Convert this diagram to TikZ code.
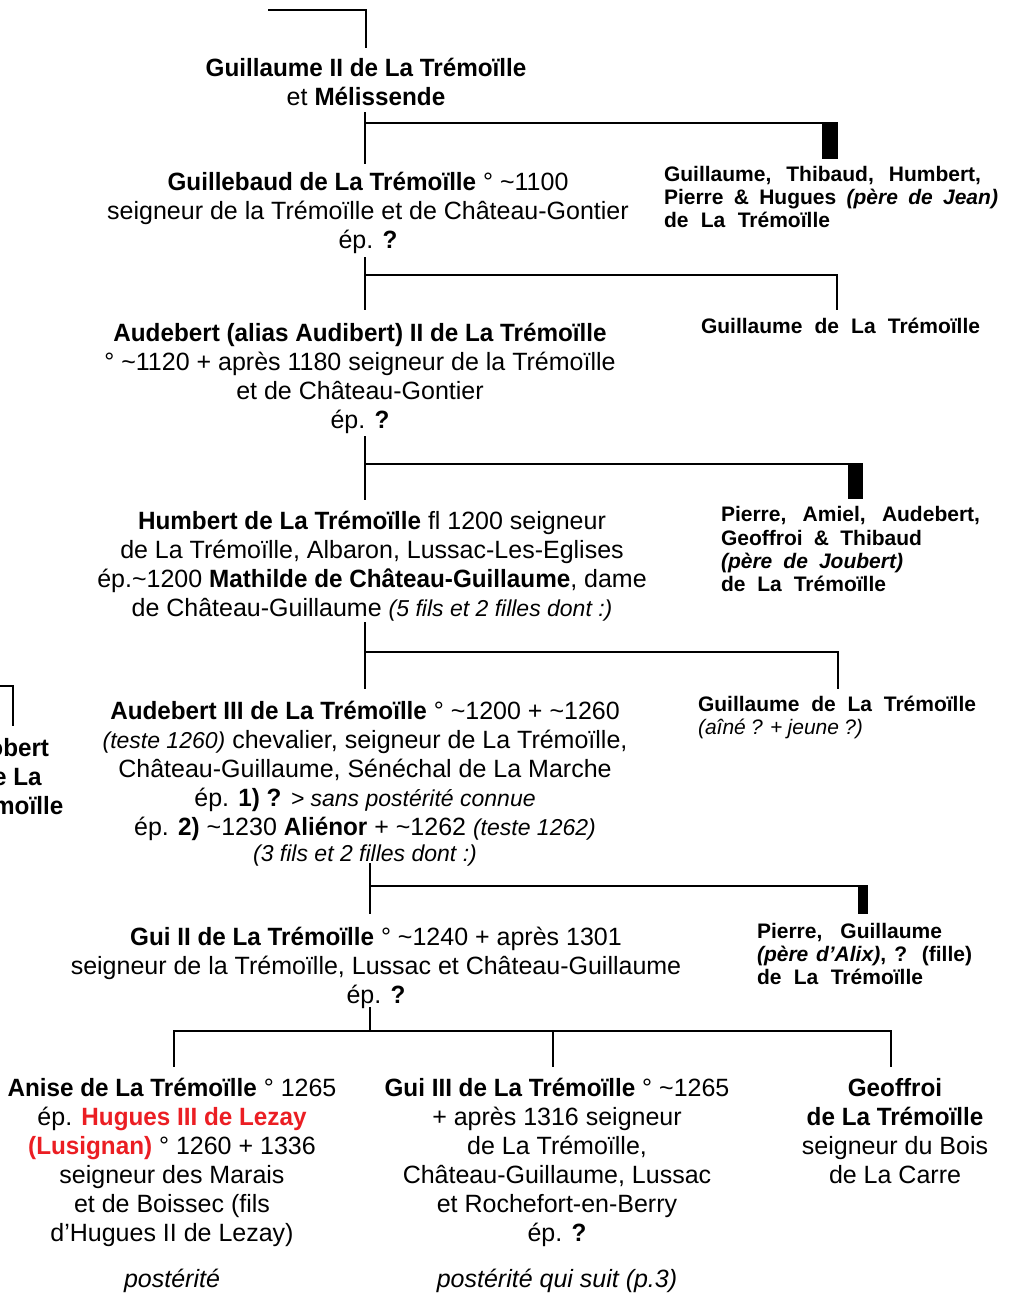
\documentclass[tikz,border=0pt]{standalone}
\usepackage{fontspec}
\setmainfont{Liberation Sans}[BoldFeatures={FakeStretch=0.97},BoldItalicFeatures={FakeStretch=0.97}]
\newfontfamily\sidefont{Liberation Sans}
\usepackage{xcolor}
\definecolor{lezred}{RGB}{235,30,35}
\newcommand\mainsz{\fontsize{12.5}{14.5}\selectfont}
\newcommand\sidesz{\fontsize{10.5}{11.5}\selectfont}
\newcommand\notesz{\fontsize{11.5}{13}\selectfont\itshape}
\newcommand\widesp{\spaceskip=0.25em plus 1fil minus 0.1em\relax}
\newcommand\ctabx[1]{\begin{tabular}[t]{@{}c@{}}#1\end{tabular}}
\newcommand\ltabx[1]{\begin{tabular}[t]{@{}l@{}}#1\end{tabular}}
\newcommand\sline[2]{\makebox[#1pt][s]{#2}}
\newcommand\tl{\textasciitilde}
\begin{document}
\begin{tikzpicture}[x=0.5pt,y=-0.5pt,line width=1pt,
  person/.style={anchor=base,inner sep=0pt,font=\mainsz},
  side/.style={anchor=base west,inner sep=0pt,font=\sidefont\sidesz\bfseries\widesp},
  link/.style={line width=1pt,line cap=rect},
  bar/.style={fill=black}]
\useasboundingbox (0,0) rectangle (1011,1293);
\clip (0,0) rectangle (1011,1293);

% ---------- nodes ----------
\node[person] (n1) at (366,77) {\ctabx{\textbf{Guillaume II de La Trémoïlle}\\ et \textbf{Mélissende}}};
\node[person] (n2) at (368,191) {\ctabx{\textbf{Guillebaud de La Trémoïlle} ° \tl1100\\ seigneur de la Trémoïlle et de Château-Gontier\\ ép. \textbf{?}}};
\node[person] (n3) at (360,342) {\ctabx{\textbf{Audebert (alias Audibert) II de La Trémoïlle}\\ ° \tl1120 + après 1180 seigneur de la Trémoïlle\\ et de Château-Gontier\\ ép. \textbf{?}}};
\node[person] (n4) at (372,529) {\ctabx{\textbf{Humbert de La Trémoïlle} fl 1200 seigneur\\ de La Trémoïlle, Albaron, Lussac-Les-Eglises\\ ép.\tl1200 \textbf{Mathilde de Château-Guillaume}, dame\\ de Château-Guillaume {\notesz (5 fils et 2 filles dont :)}}};
\node[person] (n5) at (365,719) {\ctabx{\textbf{Audebert III de La Trémoïlle} ° \tl1200 + \tl1260\\ {\notesz (teste 1260)} chevalier, seigneur de La Trémoïlle,\\ Château-Guillaume, Sénéchal de La Marche\\ ép. \textbf{1) ?} {\notesz > sans postérité connue}\\ ép. \textbf{2)} \tl1230 \textbf{Aliénor} + \tl1262 {\notesz (teste 1262)}\\[-1.5pt] {\notesz (3 fils et 2 filles dont :)}}};
\node[person] (n6) at (376,945) {\ctabx{\textbf{Gui II de La Trémoïlle} ° \tl1240 + après 1301\\ seigneur de la Trémoïlle, Lussac et Château-Guillaume\\ ép. \textbf{?}}};
\node[person] (n7) at (172,1096) {\ctabx{\textbf{Anise de La Trémoïlle} ° 1265\\ ép. \textcolor{lezred}{\textbf{Hugues III de Lezay}}\\ \textcolor{lezred}{\textbf{(Lusignan)}} ° 1260 + 1336\\ seigneur des Marais\\ et de Boissec (fils\\ d’Hugues II de Lezay)}};
\node[person] (n8) at (557,1096) {\ctabx{\textbf{Gui III de La Trémoïlle} ° \tl1265\\ + après 1316 seigneur\\ de La Trémoïlle,\\ Château-Guillaume, Lussac\\ et Rochefort-en-Berry\\ ép. \textbf{?}}};
\node[person] (n9) at (895,1096) {\ctabx{\textbf{Geoffroi}\\ \textbf{de La Trémoïlle}\\ seigneur du Bois\\ de La Carre}};
\node[person] (p7) at (172,1287) {\itshape postérité};
\node[person] (p8) at (557,1287) {\itshape postérité qui suit (p.3)};
\node[person,font=\mainsz\bfseries] (lc) at (10,756) {\ctabx{Robert\\ de La\\ Trémoïlle}};

\node[side] (r1) at (663,182) {\ltabx{\sline{158.5}{Guillaume, Thibaud, Humbert,}\\ \sline{167}{Pierre \& Hugues \textit{(père de Jean)}}\\ \sline{83}{de La Trémoïlle}}};
\node[side] (r2) at (700,334) {\sline{139.5}{Guillaume de La Trémoïlle}};
\node[side] (r3) at (720,522) {\ltabx{\sline{129.5}{Pierre, Amiel, Audebert,}\\ \sline{100.5}{Geoffroi \& Thibaud}\\ \sline{91}{\textit{(père de Joubert)}}\\ \sline{82.5}{de La Trémoïlle}}};
\node[side] (r4) at (697,711) {\ltabx{\sline{139}{Guillaume de La Trémoïlle}\\ \sline{82.5}{\mdseries\itshape (aîné ? + jeune ?)}}};
\node[side] (r5) at (756,938) {\ltabx{\sline{92.5}{Pierre, Guillaume}\\ \sline{107.5}{\textit{(père d’Alix)}, ? (fille)}\\ \sline{83}{de La Trémoïlle}}};

% ---------- connectors ----------
\coordinate (t0) at (269,10);
\coordinate (t1) at (366,47);
\draw[link] (t0) -| (t1);

% generation 1
\coordinate (g1a) at (365,113); \coordinate (g1b) at (365,163);
\coordinate (g1h) at (365,123); \coordinate (g1e) at (830,123);
\draw[link] (g1a) -- (g1b);
\draw[link] (g1h) -- (g1e);
\fill[bar] (822,122) rectangle (838,159);

% generation 2
\coordinate (g2a) at (365,258); \coordinate (g2b) at (365,309);
\coordinate (g2h) at (365,275); \coordinate (g2e) at (837,309);
\draw[link] (g2a) -- (g2b);
\draw[link] (g2h) -| (g2e);

% generation 3
\coordinate (g3a) at (365,437); \coordinate (g3b) at (365,499);
\coordinate (g3h) at (365,464); \coordinate (g3e) at (855,464);
\draw[link] (g3a) -- (g3b);
\draw[link] (g3h) -- (g3e);
\fill[bar] (848,463) rectangle (863,499);

% generation 4
\coordinate (g4a) at (365,623); \coordinate (g4b) at (365,688);
\coordinate (g4h) at (365,652); \coordinate (g4e) at (838,688);
\draw[link] (g4a) -- (g4b);
\draw[link] (g4h) -| (g4e);

% left cut-off branch
\coordinate (lca) at (-5,686); \coordinate (lcb) at (12.5,725);
\draw[link] (lca) -| (lcb);

% generation 5
\coordinate (g5a) at (370,864); \coordinate (g5b) at (370,913);
\coordinate (g5h) at (370,886); \coordinate (g5e) at (862,886);
\draw[link] (g5a) -- (g5b);
\draw[link] (g5h) -- (g5e);
\fill[bar] (858,885) rectangle (868,914);

% generation 6
\coordinate (g6a) at (370,1008); \coordinate (g6h) at (370,1031);
\coordinate (c7) at (174,1066); \coordinate (c8) at (553,1066); \coordinate (c9) at (891,1066);
\draw[link] (g6a) -- (g6h);
\draw[link] (c7) |- (g6h) -| (c9);
\draw[link] (c8) -- (553,1031);
\end{tikzpicture}
\end{document}
